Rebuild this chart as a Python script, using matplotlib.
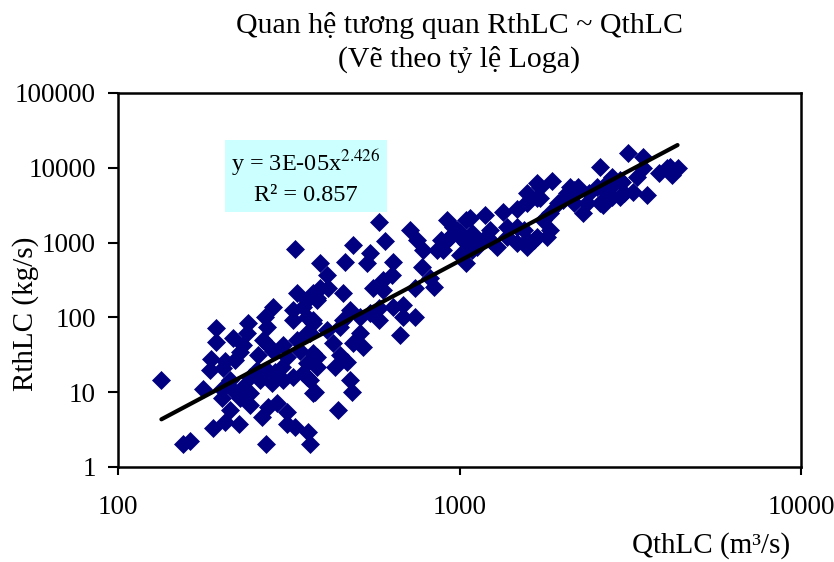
import numpy as np
import matplotlib
matplotlib.use('Agg')
import matplotlib.pyplot as plt

plt.rcParams['font.family'] = ['Liberation Serif', 'DejaVu Serif']
plt.rcParams['mathtext.fontset'] = 'stix'

# QthLC (m3/s) and RthLC (kg/s)
q_low = [134, 155, 162, 194, 194, 187, 206, 217, 177, 202, 202, 213, 190, 206, 226,
         271, 365, 360, 312, 312, 330, 264, 275, 292, 372, 244, 228, 244, 220, 232,
         213, 186, 203, 220, 228, 232, 239, 240, 273, 270, 284, 275, 266, 257, 284,
         304, 312, 302, 288, 273, 255, 244, 260, 283, 304, 325, 348, 334, 325, 325,
         348, 357, 372, 365, 334, 341, 372, 357, 365, 383, 372, 330]
r_low = [14.5, 2.0, 2.2, 72, 47, 28, 26, 53, 11, 11, 8.4, 5.8, 3.3, 4.0, 3.8,
         2.0, 2.0, 2.9, 5.4, 3.8, 3.4, 4.7, 6.3, 7.2, 9.7, 6.7, 8.4, 9.8, 10, 11.8,
         14.5, 19.8, 21, 27, 34, 43, 62, 84, 74, 100, 138, 43, 50, 31, 36,
         43, 30, 22, 18.6, 19.8, 20, 16, 14.5, 13.3, 14.5, 16, 18, 211, 125, 92,
         138, 100, 84, 62, 50, 36, 33, 24.5, 14.5, 170, 211, 830]

q_mid = [488, 605, 547, 536, 462, 390, 409, 390, 412, 382, 456, 357, 640, 634, 596,
         557, 596, 742, 840, 820, 776, 751, 718, 780, 858, 920, 1000, 1047, 1090, 478,
         456, 447, 511, 547, 581, 581, 640, 684, 684, 742, 670, 511, 488, 523, 447,
         468, 433, 382, 382, 357, 478, 484, 377, 441, 372, 409, 357, 425, 580]
r_mid = [930, 1050, 727, 533, 550, 533, 370, 248, 248, 182, 211, 170, 550, 370, 315,
         248, 232, 248, 254, 336, 470, 1080, 1470, 796, 796, 1083, 1190, 533, 796, 126,
         92, 74, 100, 114, 92, 133, 138, 146, 100, 100, 58, 62, 45, 40, 31,
         25, 22, 30, 22, 16, 14.5, 10, 10, 5.8, 92, 68, 62, 45, 1900]

q_high = [2578, 1866, 1716, 1577, 1340, 1188, 1075, 920, 955, 1000, 1075, 1000, 1125, 1230,
          1290, 1380, 1475, 1475, 1577, 1650, 1577, 1690, 1846, 1760, 1846, 2010, 2160, 2300,
          2360, 2578, 2700, 2530, 2800, 2100, 1690, 3110, 3450, 4040, 4350, 4200, 3850, 3540,
          3230, 2960, 2630, 2760, 3320, 3000, 3450, 4130, 2800, 3030, 2220, 2060, 2400, 2700,
          2960, 1577, 1577, 1716, 1690, 1940, 1047, 985, 1090, 1230, 1380, 1540, 1800, 1170,
          1047, 935, 880, 895, 1475, 2160]
r_high = [10200, 6700, 5500, 3500, 2550, 2340, 2140, 1990, 1620, 1350, 1190, 680, 870, 1085,
          870, 1190, 1620, 990, 1085, 1085, 870, 1190, 1470, 1990, 2450, 3700, 5000, 2490,
          3400, 3400, 4600, 5500, 7500, 5500, 4000, 15700, 14000, 10000, 10000, 8000, 8500, 4350,
          4750, 4100, 3200, 5300, 7500, 6500, 10000, 10200, 4100, 4600, 5500, 4600, 4600, 6200,
          6900, 4600, 3400, 3900, 6200, 3400, 1990, 1480, 1350, 1480, 1620, 1480, 1190, 1085,
          990, 1190, 1085, 796, 2800, 3400]

q = np.array(q_low + q_mid + q_high, dtype=float)
r = np.array(r_low + r_mid + r_high, dtype=float)

# power trendline from the label: y = 3E-05 x^2.426
coef_a = 3e-5
coef_b = 2.426

fig = plt.figure(figsize=(8.34, 5.62), dpi=100)
ax = fig.add_axes([118/834, 1 - 467/562, (801-118)/834, (467-93)/562])

ax.plot(q, r, linestyle='none', marker='D', ms=9.5, color='#000080', mec='#000080', mew=0.5)

xs = np.linspace(q.min(), q.max(), 200)
ax.plot(xs, coef_a * xs ** coef_b, color='black', lw=3, solid_capstyle='round')

ax.set_xscale('log')
ax.set_yscale('log')
ax.set_xlim(100, 10000)
ax.set_ylim(1, 100000)
ax.set_xticks([100, 1000, 10000])
ax.set_xticklabels(['100', '1000', '10000'])
ax.set_yticks([1, 10, 100, 1000, 10000, 100000])
ax.set_yticklabels(['1', '10', '100', '1000', '10000', '100000'])
ax.minorticks_off()
ax.tick_params(axis='x', direction='out', length=6, width=1.5, pad=14, labelsize=19.5)
ax.tick_params(axis='y', direction='out', length=7, width=1.5, pad=9, labelsize=19.5)
for sp in ax.spines.values():
    sp.set_linewidth(1.8)

ax.set_title('Quan hệ tương quan RthLC ~ QthLC\n(Vẽ theo tỷ lệ Loga)', fontsize=21.5,
             pad=19, linespacing=1.33)
fig.text(26/834, 1 - 314/562, 'RthLC (kg/s)', rotation=90, ha='center', va='center', fontsize=21)
fig.text(790/834, 1 - 546/562, 'QthLC (m³/s)', ha='right', va='center', fontsize=21)

ax.text(0.275, 0.776, 'y = 3E-05x$^{\\mathrm{2.426}}$\nR² = 0.857', transform=ax.transAxes,
        ha='center', va='center', fontsize=17.5, linespacing=1.38,
        bbox=dict(boxstyle='square,pad=0.25', fc='#CCFFFF', ec='none'))

fig.savefig('out.png', dpi=100)
